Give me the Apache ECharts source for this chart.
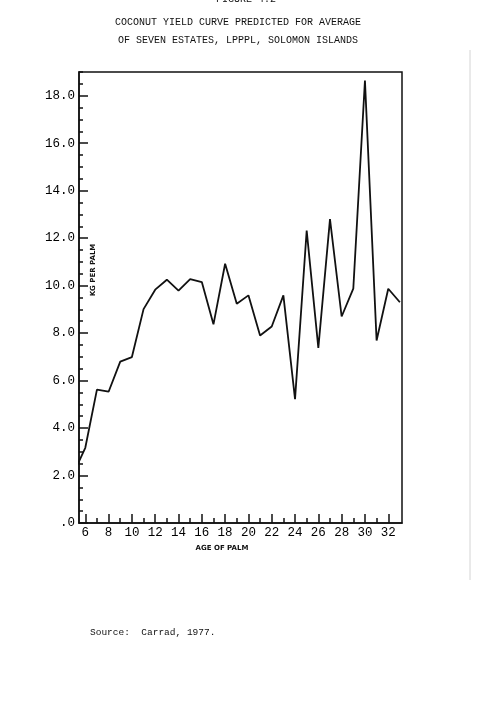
<!DOCTYPE html>
<html>
<head>
<meta charset="utf-8">
<script src="https://cdn.jsdelivr.net/npm/echarts@6/dist/echarts.min.js"></script>
<style>
  html, body { margin: 0; padding: 0; background: #fff; }
  #chart { width: 492px; height: 724px; }
</style>
</head>
<body>
<div id="chart"></div>
<script>
// age of palm (years) and predicted yield (kg per palm)
const ages = [5, 6, 7, 8, 9, 10, 11, 12, 13, 14, 15, 16, 17, 18, 19,
  20, 21, 22, 23, 24, 25, 26, 27, 28, 29, 30, 31, 32, 33]
const yieldKg = [2.1, 3.17, 5.62, 5.53, 6.8, 6.99, 9.01, 9.83, 10.25, 9.79, 10.27, 10.15, 8.37, 10.92, 9.24,
  9.59, 7.9, 8.28, 9.59, 5.22, 12.32, 7.38, 12.8, 8.7, 9.87, 18.64, 7.69, 9.87, 9.3]

// tick positions
const xMajor = [6, 8, 10, 12, 14, 16, 18, 20, 22, 24, 26, 28, 30, 32]
const xMinor = [7, 9, 11, 13, 15, 17, 19, 21, 23, 25, 27, 29, 31]

const titleLines = [
  'COCONUT YIELD CURVE PREDICTED FOR AVERAGE',
  'OF SEVEN ESTATES, LPPPL, SOLOMON ISLANDS'
]

const mono = '"Liberation Mono", "DejaVu Sans Mono", monospace'
const chart = echarts.init(document.getElementById('chart'))

const option = {
  backgroundColor: '#fff',
  animation: false,
  grid: {
    left: 79, right: 90, top: 72, bottom: 201,
    show: true, borderColor: '#111', borderWidth: 1.5
  },
  xAxis: [
    {
      type: 'value', min: 5.46, max: 33.18,
      splitLine: { show: false },
      axisLine: { lineStyle: { color: '#111', width: 1.5 } },
      axisTick: { inside: true, length: 9, customValues: xMajor, lineStyle: { color: '#111', width: 1.5 } },
      axisLabel: { customValues: xMajor, margin: 3, color: '#000', fontFamily: mono, fontSize: 12.5 }
    },
    {
      type: 'value', min: 5.46, max: 33.18, position: 'bottom',
      splitLine: { show: false },
      axisLine: { show: false },
      axisTick: { inside: true, length: 5, customValues: xMinor, lineStyle: { color: '#111', width: 1.5 } },
      axisLabel: { show: false }
    }
  ],
  yAxis: [
    {
      type: 'value', min: 0, max: 19, interval: 2,
      splitLine: { show: false },
      axisLine: { show: true, lineStyle: { color: '#111', width: 1.5 } },
      axisTick: { show: true, inside: true, length: 9, lineStyle: { color: '#111', width: 1.5 } },
      axisLabel: {
        margin: 4, color: '#000', fontFamily: mono, fontSize: 12.5, showMaxLabel: false,
        formatter: v => v === 0 ? '.0' : v.toFixed(1)
      }
    },
    {
      type: 'value', min: 0, max: 19, interval: 0.5, position: 'left',
      splitLine: { show: false },
      axisLine: { show: false },
      axisTick: { show: true, inside: true, length: 4, lineStyle: { color: '#111', width: 1.5 } },
      axisLabel: { show: false }
    }
  ],
  series: [{
    type: 'line',
    data: ages.map((a, i) => [a, yieldKg[i]]),
    showSymbol: false,
    clip: true,
    lineStyle: { color: '#111', width: 1.8 }
  }],
  graphic: [
    {
      type: 'text', left: 'center', top: -6,
      style: { text: 'FIGURE 4.2', font: '10px ' + mono, fill: '#111' }
    },
    {
      type: 'text', x: 238, y: 22,
      style: { text: titleLines[0], font: '10px ' + mono, fill: '#111', textAlign: 'center', textVerticalAlign: 'middle' }
    },
    {
      type: 'text', x: 238, y: 40,
      style: { text: titleLines[1], font: '10px ' + mono, fill: '#111', textAlign: 'center', textVerticalAlign: 'middle' }
    },
    {
      type: 'text', x: 93, y: 270, rotation: Math.PI / 2,
      style: { text: 'KG PER PALM', font: 'bold 7px "DejaVu Sans"', fill: '#111', textAlign: 'center', textVerticalAlign: 'middle' }
    },
    {
      type: 'text', x: 222, y: 548,
      style: { text: 'AGE OF PALM', font: 'bold 7px "DejaVu Sans"', fill: '#111', textAlign: 'center', textVerticalAlign: 'middle' }
    },
    {
      type: 'text', x: 90, y: 632,
      style: { text: 'Source:  Carrad, 1977.', font: '9.5px ' + mono, fill: '#111', textAlign: 'left', textVerticalAlign: 'middle' }
    },
    {
      // faint scanner edge on the right
      type: 'line', silent: true,
      shape: { x1: 470, y1: 50, x2: 470, y2: 580 },
      style: { stroke: '#d4d4d4', lineWidth: 1 }
    }
  ]
}

chart.setOption(option)
</script>
</body>
</html>
